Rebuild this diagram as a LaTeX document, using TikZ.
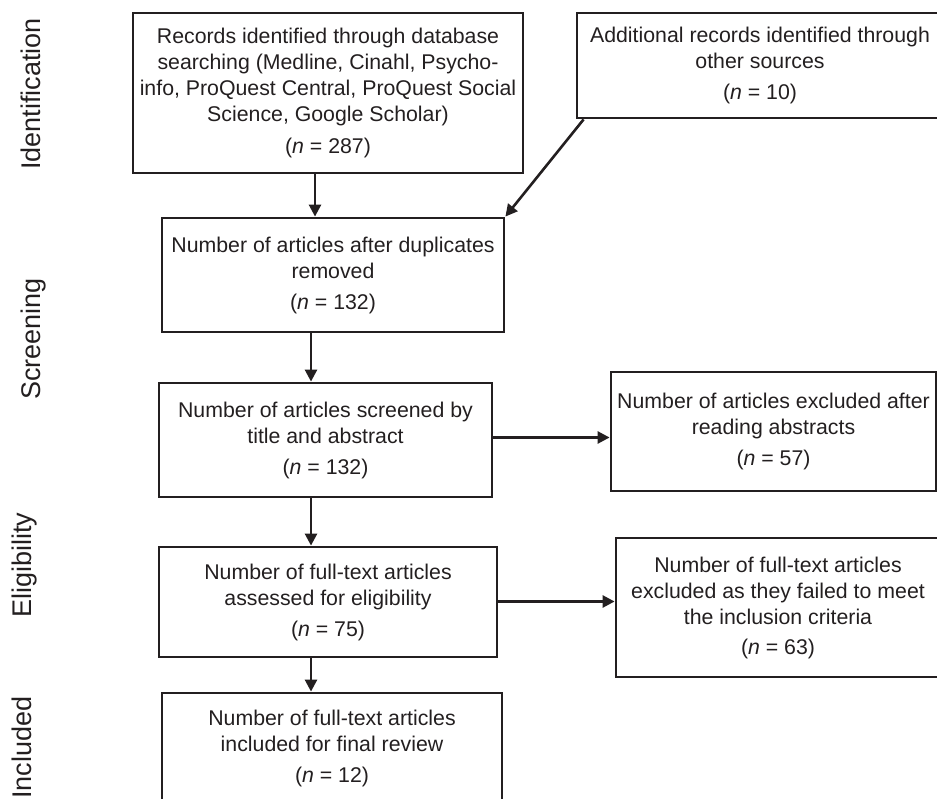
\documentclass[tikz,border=0pt]{standalone}
\usepackage{fontspec}
\setmainfont{Liberation Sans}
\usetikzlibrary{arrows.meta}
\definecolor{ink}{RGB}{35,31,32}
\begin{document}
\begin{tikzpicture}[x=1pt,y=-1pt,
  box/.style={draw=ink, line width=2.8pt, inner sep=0pt, align=center,
    font=\fontsize{21.3}{26}\selectfont, text=ink},
  flow/.style={draw=ink, line width=2.6pt, -{Triangle[length=12pt,width=12pt]}},
  phase/.style={rotate=90, anchor=base west, inner sep=0pt,
    font=\fontsize{27}{32}\selectfont, text=ink}]
\useasboundingbox (0,0) rectangle (937,799);
\clip (0,0) rectangle (937,799);

% phase labels
\node[phase] (pid) at (40,170) {Identification};
\node[phase] (psc) at (40,400) {Screening};
\node[phase] (pel) at (31,618) {Eligibility};
\node[phase] (pin) at (31,799) {Included};

% boxes
\node[box, minimum width=390pt, minimum height=160pt] (b1) at (328,93)
  {Records identified through database\\searching (Medline, Cinahl, Psycho-\\info, ProQuest Central, ProQuest Social\\Science, Google Scholar)\\[6pt](\textit{n} = 287)};
\node[box, minimum width=366pt, minimum height=105pt] (b2) at (760,65.5)
  {Additional records identified through\\other sources\\[5pt](\textit{n} = 10)};
\node[box, minimum width=342pt, minimum height=114pt] (b3) at (333,275)
  {Number of articles after duplicates\\removed\\[5pt](\textit{n} = 132)};
\node[box, minimum width=333pt, minimum height=114pt] (b4) at (325.5,440)
  {Number of articles screened by\\title and abstract\\[5pt](\textit{n} = 132)};
\node[box, minimum width=325pt, minimum height=119pt] (b5) at (773.5,431.5)
  {Number of articles excluded after\\reading abstracts\\[5pt](\textit{n} = 57)};
\node[box, minimum width=338pt, minimum height=110pt] (b6) at (328,602)
  {Number of full-text articles\\assessed for eligibility\\[5pt](\textit{n} = 75)};
\node[box, minimum width=324pt, minimum height=139pt] (b7) at (778,607.5)
  {Number of full-text articles\\excluded as they failed to meet\\the inclusion criteria\\[4pt](\textit{n} = 63)};
\node[box, minimum width=340pt, minimum height=110pt] (b8) at (332,748)
  {Number of full-text articles\\included for final review\\[5pt](\textit{n} = 12)};

% guide coordinates for connector positions
\coordinate (ax1) at (315,0);
\coordinate (ax2) at (311,0);
\coordinate (ay1) at (0,437.5);
\coordinate (ay2) at (0,601.5);

% connectors
\draw[flow] (b1.south -| ax1) -- (b3.north -| ax1);
\draw[flow] ([xshift=8pt]b2.south west) -- (b3.north east);
\draw[flow] (b3.south -| ax2) -- (b4.north -| ax2);
\draw[flow] (b4.south -| ax2) -- (b6.north -| ax2);
\draw[flow] (b6.south -| ax2) -- (b8.north -| ax2);
\draw[flow] (b4.east |- ay1) -- (b5.west |- ay1);
\draw[flow] (b6.east |- ay2) -- (b7.west |- ay2);
\end{tikzpicture}
\end{document}
